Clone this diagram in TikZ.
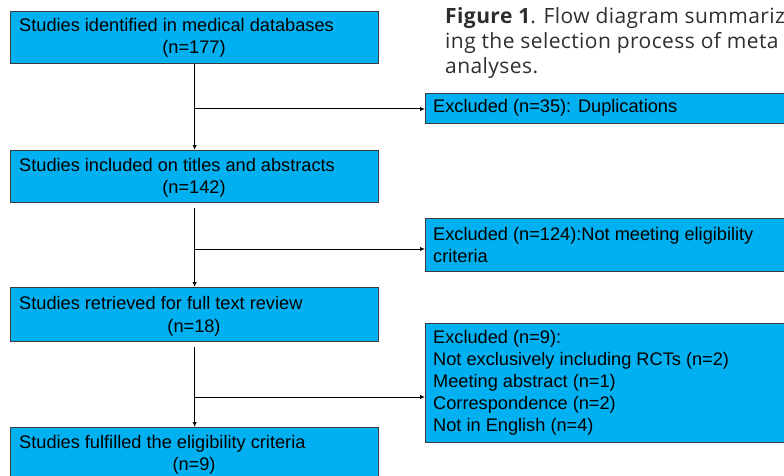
\documentclass[tikz,border=0pt]{standalone}
\usepackage{fontspec}
\setmainfont{Liberation Sans}
\newfontfamily\capfont[LetterSpace=2]{Open Sans}
\usetikzlibrary{arrows.meta,calc}
\definecolor{boxblue}{HTML}{00B0F0}
\definecolor{boxline}{HTML}{3A3A3A}
\definecolor{capgray}{HTML}{2E2E2E}
\tikzset{
  box/.style={draw=boxline, line width=1.3pt, fill=boxblue, inner sep=0pt, anchor=north west},
  txt/.style={inner sep=0pt, font=\fontsize{18.2}{22}\selectfont, text=black},
  arr/.style={line width=1pt, -{Latex[length=5pt,width=4.5pt]}},
  captxt/.style={inner sep=0pt, anchor=base west, font=\capfont\fontsize{21}{25}\selectfont, text=capgray}
}
\begin{document}
\begin{tikzpicture}[x=1pt,y=-1pt]
\useasboundingbox (0,0) rectangle (784,476);
\clip (0,0) rectangle (784,476);
% left boxes
\node[box, minimum width=368pt, minimum height=52pt] (b1) at (10,11) {};
\node[box, minimum width=368pt, minimum height=52pt] (b2) at (10,150) {};
\node[box, minimum width=368pt, minimum height=54pt] (b3) at (10,287) {};
\node[box, minimum width=368pt, minimum height=60pt] (b4) at (10,427) {};
% right boxes
\node[box, minimum width=380pt, minimum height=30pt] (e1) at (425,93) {};
\node[box, minimum width=380pt, minimum height=53pt] (e2) at (425,218) {};
\node[box, minimum width=380pt, minimum height=119pt] (e3) at (425,323) {};
% texts left
\node[txt, anchor=base west] (t1a) at (19,32) {Studies identified in medical databases};
\node[txt, anchor=base] (t1b) at (194,54) {(n=177)};
\node[txt, anchor=base west] (t2a) at (19,171) {Studies included on titles and abstracts};
\node[txt, anchor=base] (t2b) at (194,193) {(n=142)};
\node[txt, anchor=base west] (t3a) at (19,309) {Studies retrieved for full text review};
\node[txt, anchor=base] (t3b) at (194,332) {(n=18)};
\node[txt, anchor=base west] (t4a) at (19,448) {Studies fulfilled the eligibility criteria};
\node[txt, anchor=base] (t4b) at (194,470) {(n=9)};
% texts right (base = last line)
\node[txt, anchor=base west] (u1) at (433,113) {Excluded (n=35): Duplications};
\node[txt, anchor=base west, align=left] (u2) at (433,262) {Excluded (n=124):Not meeting eligibility\\criteria};
\node[txt, anchor=base west, align=left] (u3) at (433,431) {Excluded (n=9):\\Not exclusively including RCTs (n=2)\\Meeting abstract (n=1)\\Correspondence (n=2)\\Not in English (n=4)};
% caption
\node[captxt] (c1) at (445,24) {\textbf{Figure 1}. Flow diagram summariz};
\node[captxt] (c2) at (445,49) {ing the selection process of meta};
\node[captxt] (c3) at (445,74) {analyses.};
% connectors
\coordinate (j1) at (194,109);
\coordinate (j2) at (194,249);
\coordinate (j3) at (194,397);
\draw[arr] (b1.south) -- (b2.north);
\draw[arr] ([yshift=-5pt]b2.south) -- (b3.north);
\draw[arr] ([yshift=-5pt]b3.south) -- (b4.north);
\draw[arr] (j1) -- (j1 -| e1.west);
\draw[arr] (j2) -- (j2 -| e2.west);
\draw[arr] (j3) -- (j3 -| e3.west);
\end{tikzpicture}
\end{document}
